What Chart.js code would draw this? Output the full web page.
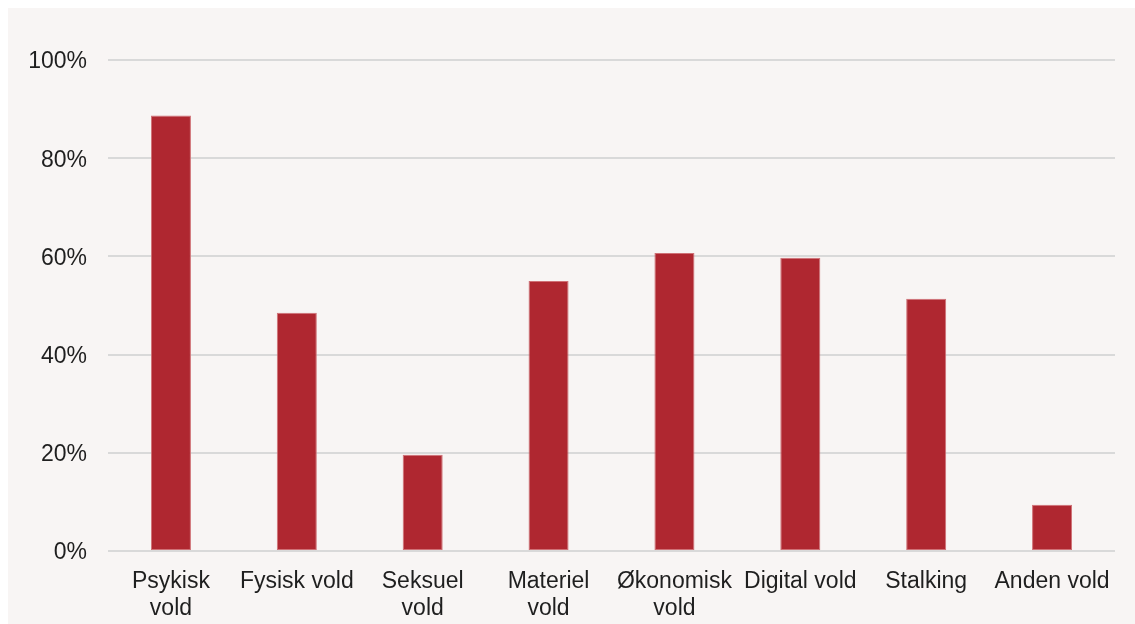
<!DOCTYPE html>
<html>
<head>
<meta charset="utf-8">
<script src="https://cdn.jsdelivr.net/npm/chart.js@4"></script>
<style>
    html, body { margin: 0; padding: 0; background: #ffffff; }
    #wrap {
        position: absolute;
        left: 8px;
        top: 8px;
        width: 1127px;
        height: 616px;
        background: #f8f5f4;
    }
</style>
</head>
<body>
<div id="wrap"><canvas id="voldChart"></canvas></div>
<script>
// Andel (%) fordelt paa voldsform
const categories = [
    ['Psykisk', 'vold'],
    'Fysisk vold',
    ['Seksuel', 'vold'],
    ['Materiel', 'vold'],
    ['Økonomisk', 'vold'],
    'Digital vold',
    'Stalking',
    'Anden vold'
];
const shares = [88.7, 48.5, 19.6, 55.0, 60.7, 59.7, 51.4, 9.4];
const yTicks = [0, 20, 40, 60, 80, 100];

const BAR_COLOR = '#af2730';
const TEXT_COLOR = '#1f1f1f';
const GRID_COLOR = '#d9d9d9';

Chart.defaults.font.family = '"Liberation Sans", Arial, sans-serif';

let voldChart;

function createVoldChart() {
    const ctx = document.getElementById('voldChart');
    if (!ctx) return;

    voldChart = new Chart(ctx.getContext('2d'), {
        type: 'bar',
        data: {
            labels: categories,
            datasets: [{
                data: shares,
                backgroundColor: BAR_COLOR,
                borderColor: '#cf7075',
                borderWidth: 1,
                borderSkipped: false,
                categoryPercentage: 1.0,
                barPercentage: 0.318
            }]
        },
        options: {
            responsive: true,
            maintainAspectRatio: false,
            animation: false,
            layout: {
                padding: { top: 52, right: 20, bottom: 0, left: 0 }
            },
            plugins: {
                legend: { display: false },
                tooltip: { enabled: false }
            },
            scales: {
                y: {
                    min: 0,
                    max: 100,
                    afterFit: function(scale) { scale.width = 100; },
                    afterBuildTicks: function(scale) {
                        scale.ticks = yTicks.map(v => ({ value: v }));
                    },
                    border: { display: false },
                    grid: {
                        color: GRID_COLOR,
                        lineWidth: 2,
                        drawTicks: false
                    },
                    ticks: {
                        padding: 21,
                        labelOffset: 2,
                        color: TEXT_COLOR,
                        font: { size: 23 },
                        callback: function(value) {
                            return value + '%';
                        }
                    }
                },
                x: {
                    afterFit: function(scale) { scale.height = 73; },
                    border: { display: false },
                    grid: { display: false, drawTicks: false },
                    ticks: {
                        padding: 17,
                        color: TEXT_COLOR,
                        autoSkip: false,
                        maxRotation: 0,
                        font: { size: 23, lineHeight: 1.17 }
                    }
                }
            }
        }
    });
}

createVoldChart();
</script>
</body>
</html>
